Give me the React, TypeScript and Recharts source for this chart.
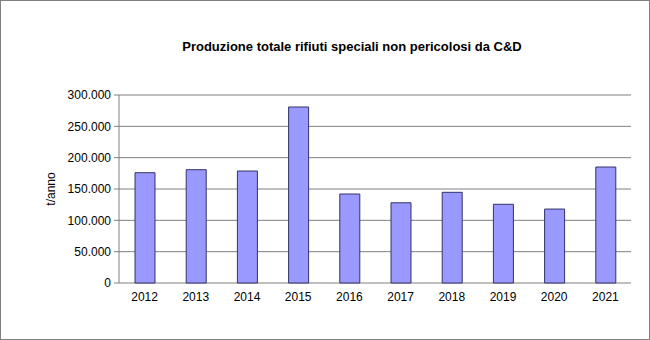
import { BarChart, Bar, XAxis, YAxis, CartesianGrid } from 'recharts';

const years = ['2012', '2013', '2014', '2015', '2016', '2017', '2018', '2019', '2020', '2021'];
const tonnes = [176000, 180800, 178700, 280900, 142000, 128000, 144700, 125600, 118000, 185100];
const yTicks = [0, 50000, 100000, 150000, 200000, 250000, 300000];
const boundaryTicks = [0, 1, 2, 3, 4, 5, 6, 7, 8, 9, 10];

const data = years.map((year, i) => ({ year, value: tonnes[i] }));

// 300000 -> "300.000"
const fmtDots = (v: number) => String(v).replace(/\B(?=(\d{3})+(?!\d))/g, '.');

const font = '"Liberation Sans", Arial, sans-serif';

export default function App() {
  return (
    <div
      style={{
        position: 'absolute',
        left: 0,
        top: 0,
        width: 650,
        height: 340,
        boxSizing: 'border-box',
        border: '1px solid #808080',
        background: '#fff',
        fontFamily: font,
      }}
    >
      <div
        style={{
          position: 'absolute',
          left: 0,
          width: 702,
          top: 38,
          textAlign: 'center',
          fontSize: 13,
          fontWeight: 'bold',
          color: '#000',
        }}
      >
        Produzione totale rifiuti speciali non pericolosi da C&amp;D
      </div>
      <BarChart
        width={648}
        height={338}
        data={data}
        margin={{ top: 94, right: 18, bottom: 0, left: 40 }}
        style={{ position: 'absolute', left: 0, top: 0 }}
      >
        <CartesianGrid stroke="#808080" vertical={false} horizontal />
        {/* tick marks between the categories */}
        <XAxis
          xAxisId="ticks"
          type="number"
          domain={[0, 10]}
          ticks={boundaryTicks}
          allowDataOverflow
          height={0}
          tickFormatter={() => ''}
          tickSize={4}
          stroke="#808080"
        />
        <XAxis
          dataKey="year"
          height={56}
          axisLine={false}
          tickLine={false}
          tick={{ fill: '#000', fontSize: 12, fontFamily: font }}
          tickMargin={3}
        />
        <YAxis
          domain={[0, 300000]}
          ticks={yTicks}
          width={78}
          tickFormatter={fmtDots}
          tick={{ fill: '#000', fontSize: 12, fontFamily: font }}
          tickSize={5}
          tickMargin={3}
          stroke="#808080"
          label={{
            value: 't/anno',
            angle: -90,
            position: 'insideLeft',
            offset: 10,
            style: { fill: '#000', fontSize: 12, fontFamily: font, textAnchor: 'middle' },
          }}
        />
        <YAxis yAxisId="edge" orientation="right" width={0} tick={false} tickLine={false} stroke="#a0a0a0" />
        <Bar dataKey="value" fill="#9999FF" stroke="#333366" strokeWidth={1} barSize={20} isAnimationActive={false} />
      </BarChart>
    </div>
  );
}
